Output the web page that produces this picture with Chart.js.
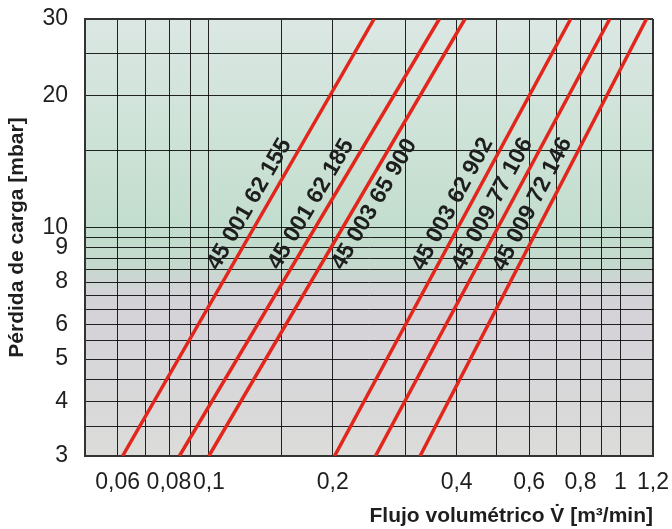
<!DOCTYPE html>
<html>
<head>
<meta charset="utf-8">
<script src="https://cdn.jsdelivr.net/npm/chart.js@4/dist/chart.umd.min.js"></script>
<style>
  html, body { margin: 0; padding: 0; background: #fff; }
  #wrap { width: 672px; height: 529px; }
</style>
</head>
<body>
<div id="wrap"><canvas id="chart" width="672" height="529"></canvas></div>
<script>
// ── Data ────────────────────────────────────────────────────────────────────
const lineNames = ["45 001 62 155", "45 001 62 185", "45 003 65 900", "45 003 62 902", "45 009 77 106", "45 009 72 146"];
const flowAt3   = [0.0617, 0.0848, 0.100, 0.202, 0.254, 0.326];   // m³/min at 3 mbar
const flowAt30  = [0.252, 0.363, 0.419, 0.757, 0.942, 1.157];     // m³/min at 30 mbar
const labelSide = [-1, -1, 1, -1, -1, -1];                        // label left (-1) or right (+1) of line
const labelAtMbar = 11.3;

const xGrid = [0.05, 0.06, 0.07, 0.08, 0.09, 0.1, 0.15, 0.2, 0.3, 0.4, 0.5, 0.6, 0.7, 0.8, 0.9, 1, 1.2];
const xTickValues = [0.06, 0.08, 0.1, 0.2, 0.4, 0.6, 0.8, 1, 1.2];
const xTickText   = ["0,06", "0,08", "0,1", "0,2", "0,4", "0,6", "0,8", "1", "1,2"];

const yGrid = [3, 3.5, 4, 4.5, 5, 5.5, 6, 6.5, 7, 7.5, 8, 8.5, 9, 9.5, 10, 15, 20, 25, 30];
const yTickValues = [3, 4, 5, 6, 7.5, 9, 10, 20, 30];
const yTickText   = ["3", "4", "5", "6", "8", "9", "10", "20", "30"];

const FONT = "'Liberation Sans', Arial, Helvetica, sans-serif";

function lookup(vals, txt, v) {
  const i = vals.findIndex(a => Math.abs(a - v) < 1e-6);
  return i >= 0 ? txt[i] : "";
}

// ── Plugins ─────────────────────────────────────────────────────────────────
const bgPlugin = {
  id: "bg",
  beforeDraw(c) {
    const { ctx, chartArea: a } = c;
    const g = ctx.createLinearGradient(0, a.top, 0, a.bottom);
    g.addColorStop(0.00, "#dbe7e3");
    g.addColorStop(0.30, "#cce2d6");
    g.addColorStop(0.50, "#c1dccc");
    g.addColorStop(0.56, "#c4d9cd");
    g.addColorStop(0.62, "#d2d3d6");
    g.addColorStop(0.68, "#d5d2d8");
    g.addColorStop(0.87, "#d8d8d9");
    g.addColorStop(1.00, "#dcdcda");
    ctx.save();
    ctx.fillStyle = g;
    ctx.fillRect(a.left, a.top, a.right - a.left, a.bottom - a.top);
    ctx.restore();
  }
};

const labelPlugin = {
  id: "lineLabels",
  afterDatasetsDraw(c) {
    const { ctx, scales: { x, y } } = c;
    ctx.save();
    ctx.font = "bold 23px " + FONT;
    ctx.fillStyle = "#1e1e1e";
    ctx.textAlign = "center";
    ctx.textBaseline = "middle";
    lineNames.forEach((name, i) => {
      const x0 = x.getPixelForValue(flowAt3[i]), y0 = y.getPixelForValue(3);
      const x1 = x.getPixelForValue(flowAt30[i]), y1 = y.getPixelForValue(30);
      const cy = y.getPixelForValue(labelAtMbar);
      const t = (cy - y0) / (y1 - y0);
      const cx = x0 + t * (x1 - x0) + labelSide[i] * 18;
      ctx.save();
      ctx.translate(cx, cy);
      ctx.rotate(Math.atan2(y1 - y0, x1 - x0));
      ctx.fillText(name, 0, 0);
      ctx.restore();
    });
    ctx.restore();
  }
};

// ── Chart ───────────────────────────────────────────────────────────────────
const datasets = lineNames.map((n, i) => ({
  label: n,
  data: [{ x: flowAt3[i], y: 3 }, { x: flowAt30[i], y: 30 }],
  borderColor: "#e2261c",
  borderWidth: 3.5,
  pointRadius: 0,
  tension: 0,
}));

new Chart(document.getElementById("chart"), {
  type: "line",
  data: { datasets },
  options: {
    responsive: false,
    animation: false,
    layout: { padding: { top: 19, right: 19, left: 0, bottom: 0 } },
    plugins: { legend: { display: false }, tooltip: { enabled: false } },
    scales: {
      x: {
        type: "logarithmic", min: 0.05, max: 1.2,
        afterBuildTicks: s => { s.ticks = xGrid.map(v => ({ value: v })); },
        afterFit: s => { s.height = 73; s.paddingLeft = 0; s.paddingRight = 0; },
        grid: {
          color: c => (c.tick && c.tick.value === 1.2) ? "#333" : "rgba(0,0,0,0.85)",
          lineWidth: c => (c.tick && c.tick.value === 1.2) ? 2 : 1,
          drawTicks: false
        },
        border: { display: true, color: "#333", width: 2 },
        ticks: {
          autoSkip: false, maxRotation: 0, padding: 13, color: "#1e1e1e",
          font: { family: FONT, size: 23 },
          callback: v => lookup(xTickValues, xTickText, v)
        },
        title: {
          display: true, text: "Flujo volumétrico V\u0307 [m³/min]", align: "end",
          color: "#1e1e1e", font: { family: FONT, size: 21, weight: "bold" },
          padding: { top: 0, bottom: 0 }
        }
      },
      y: {
        type: "logarithmic", min: 3, max: 30,
        afterBuildTicks: s => { s.ticks = yGrid.map(v => ({ value: v })); },
        afterFit: s => { s.width = 85; s.paddingTop = 0; s.paddingBottom = 0; },
        grid: {
          color: c => (c.tick && c.tick.value === 30) ? "#333" : "rgba(0,0,0,0.85)",
          lineWidth: c => (c.tick && c.tick.value === 30) ? 2 : 1,
          drawTicks: false
        },
        border: { display: true, color: "#333", width: 2 },
        ticks: {
          autoSkip: false, padding: 17, color: "#1e1e1e",
          font: { family: FONT, size: 23 },
          callback: v => lookup(yTickValues, yTickText, v)
        },
        title: {
          display: true, text: "Pérdida de carga [mbar]",
          color: "#1e1e1e", font: { family: FONT, size: 21, weight: "bold" },
          padding: { top: 5, bottom: 0 }
        }
      }
    }
  },
  plugins: [bgPlugin, labelPlugin]
});
</script>
</body>
</html>
